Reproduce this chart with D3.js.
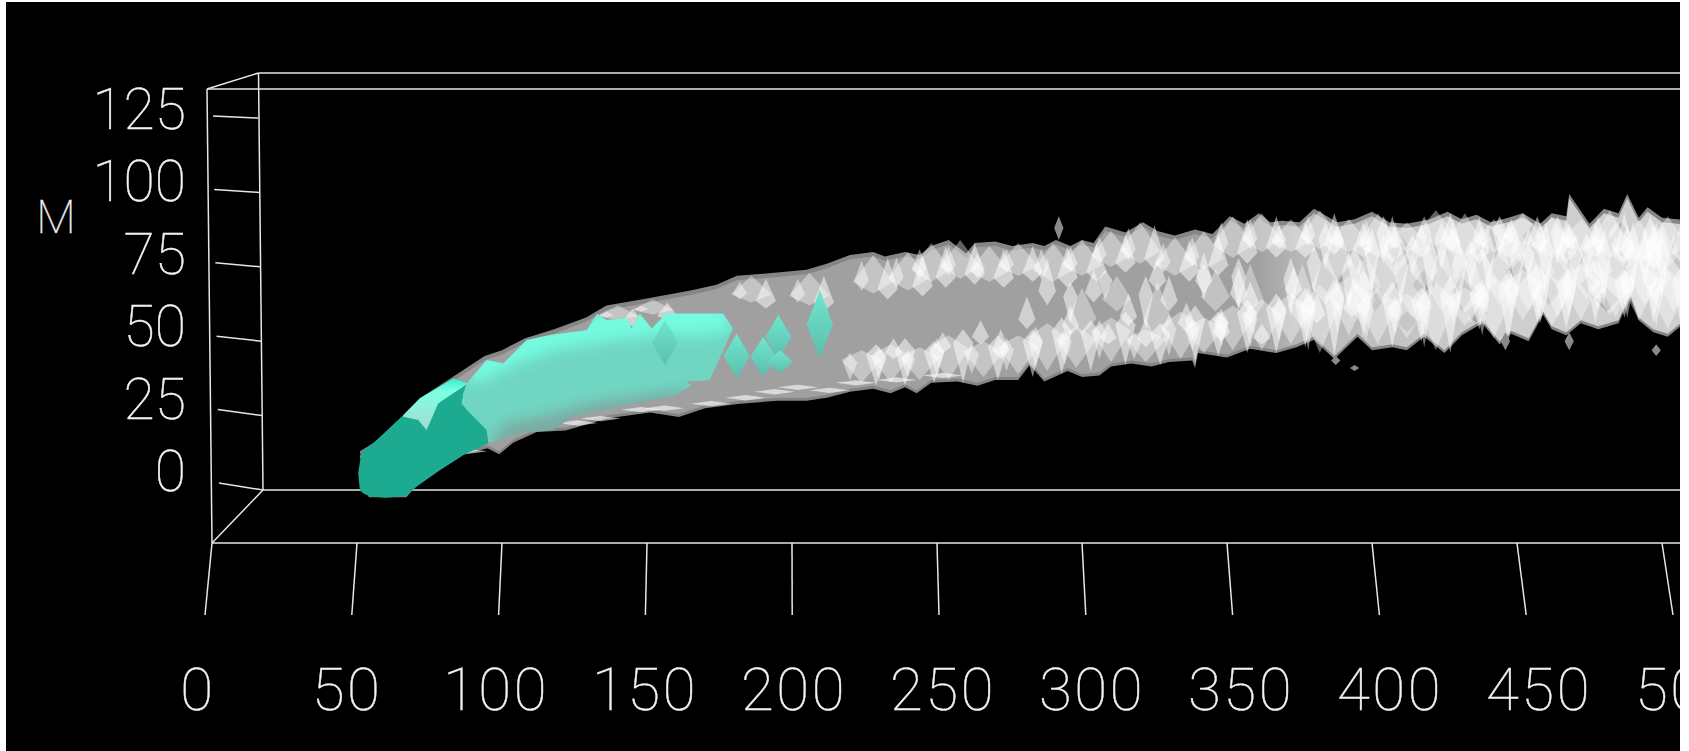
<!DOCTYPE html>
<html>
<head>
<meta charset="utf-8">
<script src="https://cdnjs.cloudflare.com/ajax/libs/d3/7.8.5/d3.min.js"></script>
<style>
html, body { margin: 0; padding: 0; background: #fff; overflow: hidden; }
text { font-family: Roboto, "Liberation Sans", sans-serif; font-weight: 100; fill: #f2f2f2; stroke: #f2f2f2; stroke-width: 0.4px; }
</style>
</head>
<body>
<script>
// Axis ticks
let xTicks = [0, 50, 100, 150, 200, 250, 300, 350, 400, 450, 500];
let mTicks = [0, 25, 50, 75, 100, 125];
let mTitle = "M";

// Outer silhouette of the surface, [x, M]
let upperX = [51, 56, 66, 72, 83, 94, 100, 108, 118, 129, 136, 148, 165, 174, 181, 194, 205, 212, 220, 228, 232, 239, 244, 248, 254, 260, 263, 270, 276, 283, 287, 291, 296, 300, 304, 308, 315, 321, 326, 332, 339, 345, 351, 356, 361, 365, 369, 375, 380, 388, 394, 400, 406, 412, 420, 426, 431, 436, 441, 447, 452, 458, 462, 467, 468, 475, 480, 485, 488, 492, 495, 500, 510];
let upperM = [13, 16, 25, 31, 38, 45, 47, 51, 54, 58, 62, 64, 67, 69, 72, 73, 74, 76, 79, 80, 78.5, 80, 79, 82, 84, 79.5, 83, 83.5, 82, 83, 82, 84, 82, 84, 83, 88.5, 86.5, 90, 87, 85.5, 87.5, 86, 92, 89.5, 93, 90, 90.5, 90, 94.5, 90, 91, 93.5, 90, 89.5, 91, 93.5, 91, 92.5, 90, 91.5, 93, 89.5, 93, 92, 99.5, 89.5, 94.5, 93, 99.5, 91.5, 95, 91.5, 90.5];
let lowerX = [54, 67, 70, 79, 87, 95, 99, 104, 112, 122, 136, 151, 161, 170, 182, 195, 205, 212, 220, 228, 234, 239, 243, 248, 257, 264, 270, 278, 282, 287, 295, 300, 306, 310, 317, 324, 330, 338, 339, 340, 350, 358, 367, 374, 380, 387, 395, 400, 407, 412, 418, 425, 431, 438, 444, 448, 454, 459, 462, 467, 472, 478, 485, 489, 492, 497, 502, 510];
let lowerM = [-2.4, -2.4, 1, 7, 12, 14, 12, 16, 19.5, 20, 24, 26, 24.5, 27.5, 29, 30, 30, 31, 33, 34, 32.5, 34.5, 32.5, 36, 36.5, 35, 37, 37, 42, 36.5, 40, 38, 38.5, 41.5, 42.5, 41.5, 43, 43.5, 41, 46, 44.5, 47.5, 46, 48, 50.5, 44, 51.5, 47, 48, 47, 51.5, 46, 52, 56, 49, 52.5, 50, 59, 54, 52, 56, 54, 56, 65, 57, 53, 51.5, 58];

// Light facets along the upper ridge
let ridgeX = [140, 152, 186, 206, 228, 240, 248, 258, 268, 278, 290, 300, 310, 320, 332, 342, 352, 362, 372, 382, 392, 402, 412, 422, 432, 442, 452, 462, 472, 482, 492, 502];
let ridgeLow = [57, 59, 63, 62, 66, 67, 70, 71, 70, 72, 70, 72, 75, 76, 72, 74, 78, 80, 80, 81, 80, 78, 80, 82, 78, 80, 82, 78, 80, 78, 76, 78];
let ridgeHigh = [62, 64, 72, 73, 79, 80, 83, 84, 82, 83, 83, 84, 87, 90, 85, 87, 92, 93, 91, 94, 91, 93, 90, 94, 93, 91, 93, 92, 91, 94, 91, 92];

// Light facets along the lower edge
let edgeX = [224, 234, 244, 254, 266, 278, 288, 298, 310, 322, 334, 342, 352, 362, 372, 382, 392, 402, 412, 422, 432, 442, 452, 462, 472, 482, 492, 502];
let edgeLow = [36, 36, 37, 37, 38, 39, 40, 41, 43, 43, 44, 46, 47, 47, 49, 46, 52, 49, 51, 47, 55, 51, 57, 55, 57, 59, 57, 54];
let edgeHigh = [47, 49, 48, 52, 50, 52, 56, 55, 58, 54, 60, 58, 62, 64, 66, 69, 72, 68, 66, 70, 68, 72, 74, 72, 76, 72, 77, 74];

// Narrow slanted glints through the middle
let glintX = [235, 252, 265, 281, 304, 309, 322, 326, 336, 354, 362, 373, 393, 348, 342, 316, 296, 288, 272, 330, 358, 381];
let glintLow = [44, 46, 49, 54, 63, 49, 48, 67, 53, 62, 49, 64, 58, 50, 66, 55, 52, 62, 44, 60, 60, 56];
let glintHigh = [51, 53, 57, 65, 74, 56, 58, 78, 63, 75, 56, 75, 68, 60, 80, 66, 62, 78, 54, 72, 70, 66];

// Light facets in the bright right part
let coreX = [300, 312, 326, 346, 358, 376, 384, 396, 404, 414, 424, 434, 444, 454, 464, 474, 484, 494, 504, 388, 408, 428, 448, 468, 488, 500, 398, 418, 438, 458, 478, 498];
let coreLow = [52, 60, 50, 60, 56, 54, 62, 56, 62, 58, 60, 56, 62, 60, 58, 64, 58, 62, 60, 70, 72, 70, 74, 72, 74, 72, 62, 68, 64, 66, 68, 64];
let coreHigh = [68, 72, 70, 74, 76, 76, 80, 78, 86, 80, 84, 82, 86, 84, 88, 84, 86, 88, 86, 88, 90, 88, 90, 90, 88, 90, 80, 84, 82, 86, 84, 84];

// Grey gaps left between the bright facets
let gapX = [392, 401, 409, 418, 431, 441, 450, 461, 470, 476, 486, 497, 506, 412, 436, 456, 481];
let gapLow = [66, 60, 76, 64, 60, 76, 68, 62, 74, 64, 78, 66, 74, 53, 56, 80, 60];
let gapHigh = [76, 70, 87, 74, 72, 88, 78, 72, 84, 74, 90, 78, 86, 60, 63, 90, 68];

// Flat pale slivers above the lower edge
let sliverX = [88, 126, 134, 148, 156, 172, 184, 194, 202, 213, 222, 236, 252];
let sliverM = [13, 22.5, 24, 27, 27.5, 29, 31, 33, 34.5, 33.5, 36, 37, 38.5];

// Small loose pieces beside the surface
let speckX = [292, 387.5, 394, 446, 468, 498];
let speckLow = [84, 42, 40, 47, 47, 45];
let speckHigh = [92, 45, 42, 53, 53, 49];

// Teal body, [x, M]
let tipX = [51, 50.4, 51.6, 56.2, 66, 71.7, 83.2, 87.8, 86.6, 94.7, 95.3, 86.6, 78.6, 70.5, 67.1, 60, 54.4, 52];
let tipM = [0, 5.6, 12.9, 16.2, 25.2, 30.8, 37.5, 35.8, 29.1, 20.2, 15.7, 11.7, 6.7, 1.1, -2, -2.6, -2.2, -1];
let capX = [66, 71.7, 83.2, 88.3, 83.2, 78, 74, 71.1, 66];
let capM = [25.2, 30.8, 37.5, 35.8, 32.5, 29.1, 20.2, 23.5, 24.6];
let bodyX = [86, 86.6, 87.8, 94.7, 100.4, 108.5, 116.5, 129.2, 132.8, 136, 143, 144.7, 147.5, 151.6, 156.7, 176.3, 179.7, 175.1, 171.7, 163.6, 165.4, 159, 139.5, 124.6, 117.7, 106.2, 95.3, 94.7, 87.8];
let bodyM = [29, 32.5, 35.8, 43.7, 42.5, 50.4, 52.1, 53.7, 59.3, 57.1, 57.7, 54.3, 59.3, 54.3, 59.3, 59.3, 54.3, 44.2, 36.9, 36.4, 35.3, 31.3, 28, 24.6, 20.2, 19, 15.7, 20.2, 26.9];
let crestX = [86, 94, 100, 108, 117, 129, 140, 156, 176, 180, 172, 156, 136, 118, 104, 92];
let crestM = [38, 48, 47, 55, 57, 58, 62, 64, 64, 54, 52, 52, 50, 47, 42, 36];
let shadeX = [95, 106, 118, 125, 140, 159, 165, 150, 130, 115, 100];
let shadeM = [12, 15, 16, 20, 23, 27, 34, 32, 29, 25, 22];
let budX = [156.2, 180.9, 190.1, 195.3, 195.8, 209.6];
let budLow = [42, 37.5, 38.1, 44.2, 39.2, 44.2];
let budHigh = [57.1, 52.6, 51.5, 58.8, 47, 67.2];

let width = 1689;
let height = 751;

// Frame corners of the box, in pixels
let frontTop = [207, 89];
let backTop = [258.5, 73];
let backBottom = [263, 490];
let frontBottom = [212, 543];
let frameRight = 1680;

let x = d3.scaleLinear().domain([0, 500]).range([212, 1662]);
let m = d3.scaleLinear().domain([0, 125]).range([490, 118]);

// Ticks lean a little, so each end has its own scale
let xTickTop = d3.scaleLinear().domain([0, 500]).range([212, 1662]);
let xTickBottom = d3.scaleLinear().domain([0, 500]).range([205, 1673]);
let xLabel = d3.scaleLinear().domain([0, 500]).range([198, 1688]);
let mTickLeft = d3.scaleLinear().domain([0, 125]).range([483, 116]);
let mTickLeftX = d3.scaleLinear().domain([0, 125]).range([219, 213]);
let mTickRightX = d3.scaleLinear().domain([0, 125]).range([263, 258.5]);
let mLabel = d3.scaleLinear().domain([0, 125]).range([471, 109]);

let svg = d3.select("body")
    .append("svg")
    .attr("width", width)
    .attr("height", height)
    .style("display", "block");

let defs = svg.append("defs");

defs.append("clipPath")
    .attr("id", "plate")
    .append("rect")
    .attr("x", 6).attr("y", 2)
    .attr("width", frameRight - 6).attr("height", height - 2);

defs.append("filter").attr("id", "soft")
    .append("feGaussianBlur").attr("stdDeviation", 0.6);
defs.append("filter").attr("id", "softer")
    .attr("x", "-20%").attr("y", "-30%").attr("width", "140%").attr("height", "160%")
    .append("feGaussianBlur").attr("stdDeviation", 7);

function gradient(id, stops) {
    let g = defs.append("linearGradient")
        .attr("id", id)
        .attr("x1", 0).attr("y1", 0).attr("x2", 0).attr("y2", 1);
    stops.forEach(([o, c]) => g.append("stop").attr("offset", o).attr("stop-color", c));
}
gradient("capFill", [[0, "#34f0cc"], [0.25, "#7dffe2"], [1, "#a4dccf"]]);
gradient("budFill", [[0, "#6fe6cf"], [1, "#5cbfad"]]);

// Surface gets brighter to the right
let glow = defs.append("linearGradient")
    .attr("id", "glow")
    .attr("gradientUnits", "userSpaceOnUse")
    .attr("x1", x(360)).attr("x2", x(510)).attr("y1", 0).attr("y2", 0);
[[0, 0], [0.1, 0.25], [0.3, 0.36], [0.55, 0.48], [1, 0.5]].forEach(([o, a]) =>
    glow.append("stop").attr("offset", o).attr("stop-color", "#fff").attr("stop-opacity", a));

let plate = svg.append("g").attr("clip-path", "url(#plate)");
plate.append("rect").attr("x", 6).attr("y", 2).attr("width", frameRight - 6).attr("height", height - 2).attr("fill", "#000");

// Box frame, the surface is painted over the back edge
let frame = plate.append("g").attr("fill", "none").attr("stroke", "#e6e6e6").attr("stroke-width", 1.5);
let frameLines = [
    [frontTop, [frameRight, frontTop[1]]],
    [backTop, [frameRight, backTop[1]]],
    [frontTop, backTop],
    [frontTop, frontBottom],
    [backTop, backBottom],
    [backBottom, frontBottom],
    [backBottom, [frameRight, backBottom[1]]],
    [frontBottom, [frameRight, frontBottom[1]]]
];
frame.selectAll("path.edge").data(frameLines).enter().append("path")
    .attr("class", "edge")
    .attr("d", d => d3.line()(d));

frame.selectAll("path.xtick").data(xTicks).enter().append("path")
    .attr("class", "xtick")
    .attr("d", d => d3.line()([[xTickTop(d), frontBottom[1]], [xTickBottom(d), 615]]));

frame.selectAll("path.mtick").data(mTicks).enter().append("path")
    .attr("class", "mtick")
    .attr("d", d => d3.line()([[mTickLeftX(d), mTickLeft(d)], [mTickRightX(d), m(d)]]));

plate.selectAll("text.xlabel").data(xTicks).enter().append("text")
    .attr("class", "xlabel")
    .attr("x", d => xLabel(d))
    .attr("y", 710)
    .attr("text-anchor", "middle")
    .attr("font-size", 60)
    .attr("letter-spacing", 2.5)
    .text(d => d);

plate.selectAll("text.mlabel").data(mTicks).enter().append("text")
    .attr("class", "mlabel")
    .attr("x", 186)
    .attr("y", d => mLabel(d) + 20)
    .attr("text-anchor", "end")
    .attr("font-size", 57)
    .attr("letter-spacing", 0)
    .text(d => d);

plate.append("text")
    .attr("x", 56)
    .attr("y", 233)
    .attr("text-anchor", "middle")
    .attr("font-size", 46)
    .text(mTitle);

// Surface
let polygon = (xs, ms) => d3.line()(xs.map((d, i) => [x(d), m(ms[i])])) + "Z";
let outline = polygon(upperX.concat(lowerX.slice().reverse()), upperM.concat(lowerM.slice().reverse()));
let inner = polygon(upperX.concat(lowerX.slice().reverse()),
    upperM.map(d => d - 1.5).concat(lowerM.slice().reverse().map(d => d + 1)));

// Kite shaped facet, lean says how far along low..high the widest point sits
let facet = (cx, low, high, half, lean) => {
    let mid = low + (high - low) * (lean === undefined ? 0.5 : lean);
    return polygon([cx - half, cx, cx + half, cx], [mid, high, mid, low]);
};

let surface = plate.append("g").attr("filter", "url(#soft)");

surface.append("path").attr("d", outline).attr("fill", "#858585");
surface.append("path").attr("d", inner).attr("fill", "#a0a0a0");
surface.append("path").attr("d", inner).attr("fill", "url(#glow)");

function facets(xs, lows, highs, half, opacity, lean, color) {
    surface.append("g").selectAll("path").data(xs).enter().append("path")
        .attr("d", (d, i) => facet(d, lows[i], highs[i], half, lean))
        .attr("fill", color || "#fff")
        .attr("fill-opacity", opacity);
}
facets(gapX, gapLow, gapHigh, 4, 0.85, 0.5, "#a0a0a0");
facets(ridgeX, ridgeLow, ridgeHigh, 7, 0.38, 0.3);
facets(ridgeX.map(d => d + 5), ridgeLow.map(d => d - 2), ridgeHigh.map(d => d - 1), 3.5, 0.5, 0.25);
facets(ridgeX.map(d => d - 4), ridgeLow.map(d => d + 1), ridgeHigh.map(d => d - 2), 2.5, 0.45, 0.35);
facets(edgeX, edgeLow, edgeHigh, 7, 0.38, 0.7);
facets(edgeX.map(d => d + 5), edgeLow.map(d => d - 1), edgeHigh.map(d => d + 2), 3.5, 0.5, 0.75);
facets(edgeX.map(d => d - 4), edgeLow.map(d => d + 1), edgeHigh.map(d => d - 1), 2.5, 0.45, 0.65);
facets(glintX, glintLow, glintHigh, 3, 0.5, 0.3);
facets(coreX, coreLow, coreHigh, 5, 0.36, 0.35);
facets(coreX.map(d => d - 4), coreLow.map(d => d + 4), coreHigh.map(d => d + 2), 2.5, 0.5, 0.65);
facets(sliverX, sliverM.map(d => d - 0.9), sliverM.map(d => d + 0.9), 7, 0.6);
facets(speckX, speckLow, speckHigh, 1.6, 1, 0.5, "#8a8a8a");

// Teal part on top
let teal = plate.append("g").attr("filter", "url(#soft)");
teal.append("path").attr("d", polygon(tipX, tipM)).attr("fill", "#1cab90");
teal.append("path").attr("d", polygon(capX, capM)).attr("fill", "url(#capFill)");

defs.append("clipPath").attr("id", "bodyClip")
    .append("path").attr("d", polygon(bodyX, bodyM));
let body = teal.append("g").attr("clip-path", "url(#bodyClip)");
body.append("path").attr("d", polygon(bodyX, bodyM)).attr("fill", "#6fd6c2");
body.append("path").attr("d", polygon(crestX, crestM)).attr("fill", "#74ffe2").attr("fill-opacity", 0.9).attr("filter", "url(#softer)");
body.append("path").attr("d", polygon(shadeX, shadeM)).attr("fill", "#7f9f98").attr("fill-opacity", 0.8).attr("filter", "url(#softer)");

teal.selectAll("path.bud").data(budX).enter().append("path")
    .attr("class", "bud")
    .attr("d", (d, i) => facet(d, budLow[i], budHigh[i], 4.5))
    .attr("fill", "url(#budFill)");
</script>
</body>
</html>
